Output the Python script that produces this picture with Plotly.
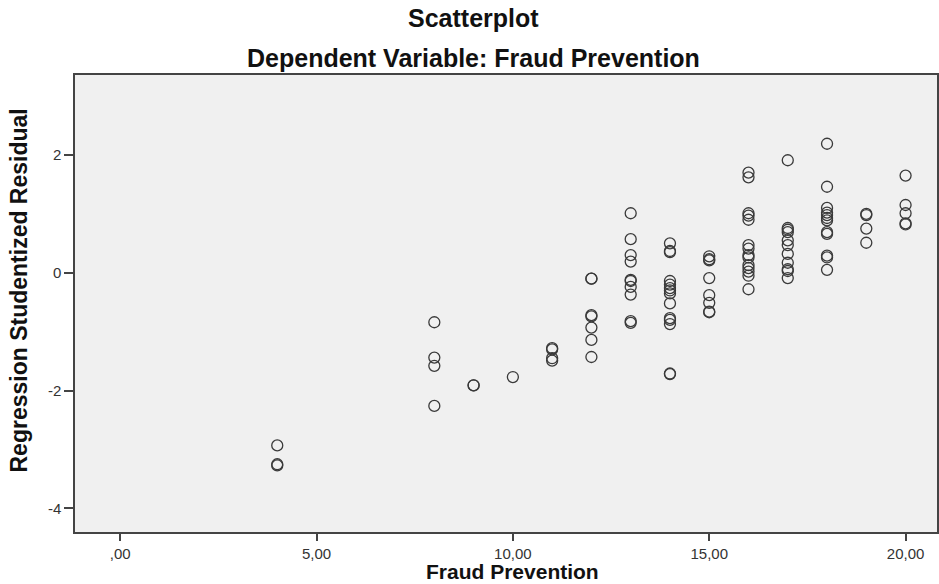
import plotly.graph_objects as go

# Fraud Prevention value -> studentized residuals
fp_levels = [4, 8, 9, 10, 11, 12, 13, 14, 15, 16, 17, 18, 19, 20]
res_4 = [-2.93, -3.25, -3.27]
res_8 = [-0.84, -1.44, -1.58, -2.26]
res_9 = [-1.91, -1.91]
res_10 = [-1.77]
res_11 = [-1.28, -1.30, -1.45, -1.49]
res_12 = [-0.10, -0.10, -0.72, -0.74, -0.93, -1.14, -1.43]
res_13 = [1.01, 0.57, 0.30, 0.19, -0.12, -0.14, -0.24, -0.37, -0.82, -0.85]
res_14 = [0.50, 0.37, 0.35, -0.14, -0.20, -0.26, -0.30, -0.35, -0.52, -0.77, -0.80, -0.87, -1.71, -1.72]
res_15 = [0.28, 0.23, 0.21, -0.09, -0.38, -0.51, -0.66, -0.67]
res_16 = [1.70, 1.62, 1.01, 0.97, 0.90, 0.47, 0.41, 0.30, 0.26, 0.13, 0.08, 0.02, -0.05, -0.28]
res_17 = [1.91, 0.76, 0.73, 0.69, 0.55, 0.47, 0.32, 0.17, 0.06, 0.03, -0.09]
res_18 = [2.19, 1.46, 1.10, 1.02, 0.98, 0.93, 0.89, 0.69, 0.66, 0.29, 0.26, 0.05]
res_19 = [1.00, 0.98, 0.75, 0.51]
res_20 = [1.65, 1.15, 1.01, 0.84, 0.82]

residual_groups = [res_4, res_8, res_9, res_10, res_11, res_12, res_13, res_14,
                   res_15, res_16, res_17, res_18, res_19, res_20]

x_tickvals = [0, 5, 10, 15, 20]
x_ticktext = [",00", "5,00", "10,00", "15,00", "20,00"]
y_tickvals = [2, 0, -2, -4]
y_ticktext = ["2", "0", "-2", "-4"]

xs, ys = [], []
for lvl, grp in zip(fp_levels, residual_groups):
    for v in grp:
        xs.append(lvl)
        ys.append(v)

fig = go.Figure()
fig.add_trace(go.Scatter(
    x=xs, y=ys, mode="markers",
    marker=dict(symbol="circle-open", size=11, color="#3a3a3a",
                line=dict(width=1.3, color="#3a3a3a")),
    showlegend=False, hoverinfo="skip"))

axis_font = dict(family="Liberation Sans, Arial, sans-serif", size=15, color="#333333")

fig.update_layout(
    width=939, height=584,
    margin=dict(l=75, r=0, t=75, b=52),
    paper_bgcolor="white",
    plot_bgcolor="#F0F0F0",
    xaxis=dict(range=[-1.15, 20.8], tickvals=x_tickvals, ticktext=x_ticktext,
               showgrid=False, zeroline=False, showline=True, mirror=True,
               linecolor="#444444", linewidth=1.5, ticks="outside", ticklen=7,
               tickwidth=1.5, tickcolor="#444444", tickfont=axis_font),
    yaxis=dict(range=[-4.40, 3.357], tickvals=y_tickvals, ticktext=y_ticktext,
               showgrid=False, zeroline=False, showline=True, mirror=True,
               linecolor="#444444", linewidth=1.5, ticks="outside", ticklen=9,
               tickwidth=1.5, tickcolor="#444444", tickfont=axis_font),
)

title_font = dict(family="Liberation Sans, Arial, sans-serif", size=25, color="#111111")
fig.add_annotation(text="<b>Scatterplot</b>", xref="paper", yref="paper",
                   x=0.462, y=1, yshift=57, xanchor="center", yanchor="middle",
                   showarrow=False, font=title_font)
fig.add_annotation(text="<b>Dependent Variable: Fraud Prevention</b>", xref="paper", yref="paper",
                   x=0.462, y=1, yshift=17, xanchor="center", yanchor="middle",
                   showarrow=False, font=title_font)
fig.add_annotation(text="<b>Fraud Prevention</b>", xref="paper", yref="paper",
                   x=0.507, y=0, yshift=-39, xanchor="center", yanchor="middle",
                   showarrow=False, font=dict(family="Liberation Sans, Arial, sans-serif", size=21, color="#111111"))
fig.add_annotation(text="<b>Regression Studentized Residual</b>", xref="paper", yref="paper",
                   x=0, xshift=-57, y=0.5, yshift=13, xanchor="center", yanchor="middle",
                   textangle=-90, showarrow=False,
                   font=dict(family="Liberation Sans, Arial, sans-serif", size=23, color="#111111"))

fig.write_html("out.html", config={"displayModeBar": False},
               post_script="document.body.style.margin='0px';document.body.style.overflow='hidden';")
